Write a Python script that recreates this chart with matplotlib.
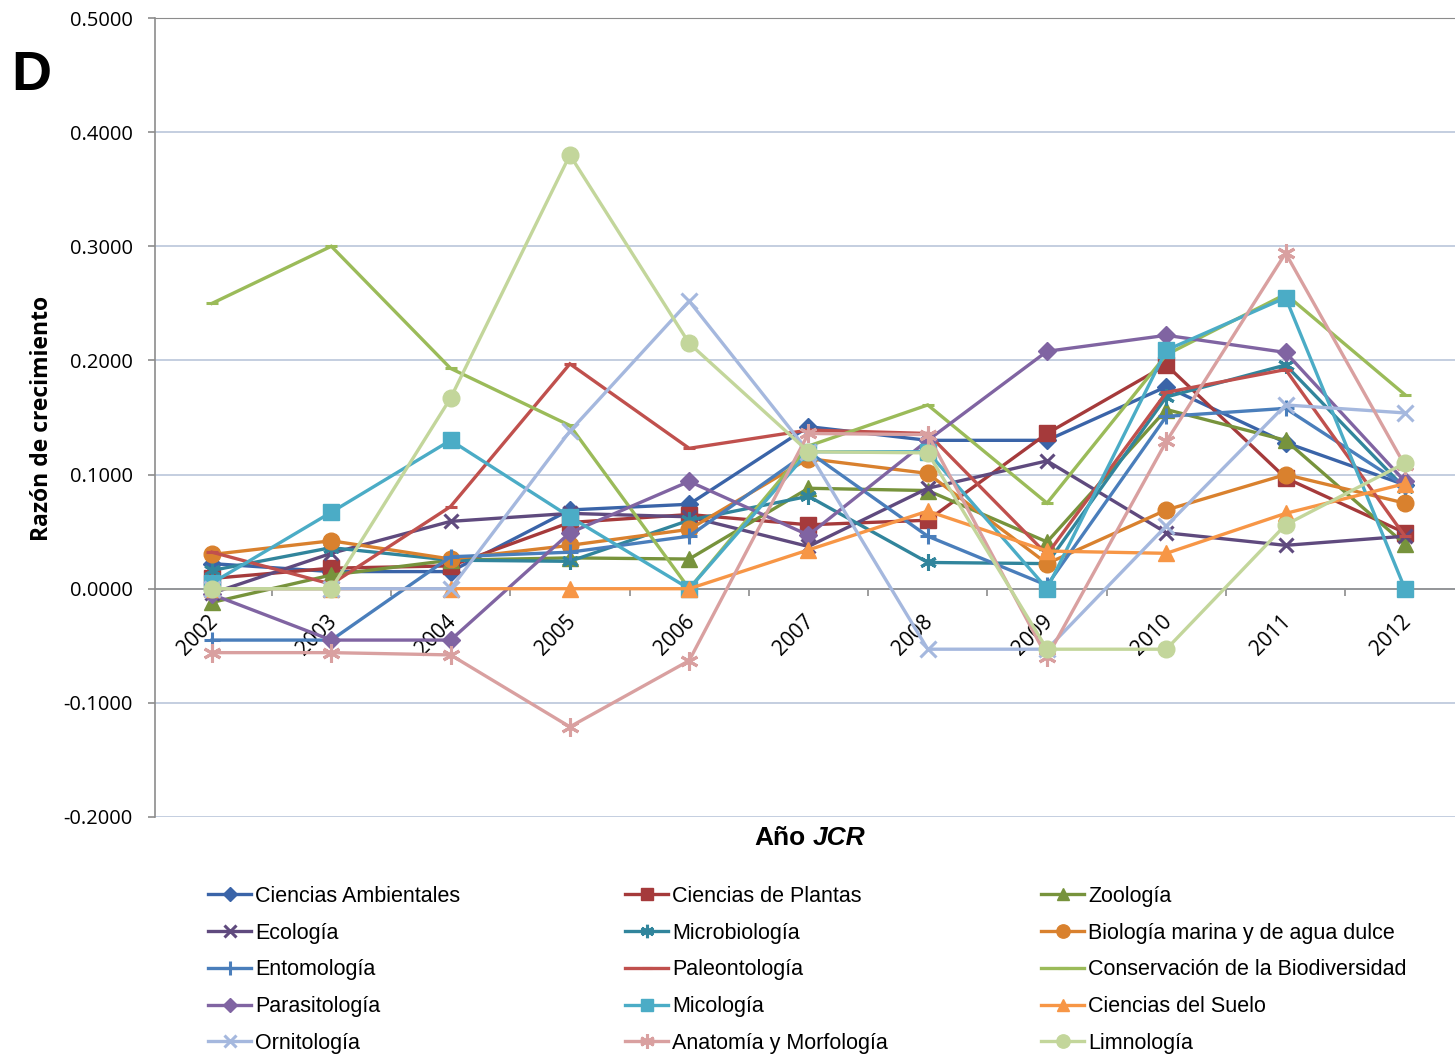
import matplotlib
matplotlib.use("Agg")
import matplotlib.pyplot as plt
from matplotlib.transforms import ScaledTranslation

# Growth ratio by JCR year for each subject category
years = ["2002", "2003", "2004", "2005", "2006", "2007", "2008", "2009", "2010", "2011", "2012"]

ciencias_ambientales = [0.022, 0.015, 0.015, 0.069, 0.074, 0.142, 0.130, 0.130, 0.177, 0.128, 0.091]
ciencias_plantas = [0.009, 0.018, 0.020, 0.058, 0.065, 0.056, 0.060, 0.136, 0.196, 0.097, 0.049]
zoologia = [-0.012, 0.012, 0.025, 0.027, 0.026, 0.088, 0.086, 0.041, 0.157, 0.130, 0.039]
ecologia = [-0.004, 0.031, 0.059, 0.066, 0.063, 0.037, 0.088, 0.112, 0.049, 0.038, 0.046]
microbiologia = [0.016, 0.036, 0.025, 0.024, 0.060, 0.081, 0.023, 0.022, 0.168, 0.196, 0.088]
biologia_marina = [0.030, 0.042, 0.026, 0.038, 0.052, 0.114, 0.101, 0.022, 0.069, 0.100, 0.075]
entomologia = [-0.045, -0.045, 0.028, 0.032, 0.046, 0.120, 0.046, 0.003, 0.151, 0.158, 0.090]
paleontologia = [0.032, 0.004, 0.072, 0.197, 0.123, 0.139, 0.136, 0.030, 0.172, 0.192, 0.046]
conservacion = [0.250, 0.300, 0.193, 0.143, 0.000, 0.125, 0.161, 0.075, 0.205, 0.258, 0.170]
parasitologia = [-0.005, -0.045, -0.045, 0.049, 0.094, 0.047, 0.130, 0.208, 0.222, 0.207, 0.094]
micologia = [0.005, 0.067, 0.130, 0.063, 0.000, 0.120, 0.120, 0.000, 0.209, 0.255, 0.000]
ciencias_suelo = [0.000, 0.000, 0.000, 0.000, 0.000, 0.034, 0.068, 0.033, 0.031, 0.066, 0.092]
ornitologia = [0.000, 0.000, 0.000, 0.138, 0.252, 0.120, -0.053, -0.053, 0.055, 0.161, 0.154]
anatomia = [-0.056, -0.056, -0.058, -0.121, -0.063, 0.136, 0.135, -0.060, 0.129, 0.294, 0.108]
limnologia = [0.000, 0.000, 0.167, 0.380, 0.215, 0.120, 0.119, -0.053, -0.053, 0.056, 0.110]

names = [
    "Ciencias Ambientales", "Ciencias de Plantas", "Zoología",
    "Ecología", "Microbiología", "Biología marina y de agua dulce",
    "Entomología", "Paleontología", "Conservación de la Biodiversidad",
    "Parasitología", "Micología", "Ciencias del Suelo",
    "Ornitología", "Anatomía y Morfología", "Limnología",
]
series = [
    ciencias_ambientales, ciencias_plantas, zoologia,
    ecologia, microbiologia, biologia_marina,
    entomologia, paleontologia, conservacion,
    parasitologia, micologia, ciencias_suelo,
    ornitologia, anatomia, limnologia,
]

STAR = (6, 2, 0)
styles = [
    ("#3A64A8", "D", 9),
    ("#A53A3B", "s", 11),
    ("#77933C", "^", 11),
    ("#5F4A7E", "x", 10),
    ("#31859C", STAR, 12),
    ("#D9812E", "o", 12),
    ("#4A7EBB", "+", 12),
    ("#C0504D", "_", 9),
    ("#9BBB59", "_", 9),
    ("#8064A2", "D", 9),
    ("#4BACC6", "s", 11),
    ("#F79646", "^", 11),
    ("#A5B8DE", "x", 11),
    ("#D9A0A0", STAR, 13),
    ("#C3D69B", "o", 12),
]

plt.rcParams["font.family"] = ["Open Sans", "DejaVu Sans"]

fig = plt.figure(figsize=(14.55, 10.56), dpi=100)
ax = fig.add_axes([155 / 1455, 1 - 817 / 1056, 1300 / 1455, 799 / 1056])

x = list(range(len(years)))
handles = []
for i, (name, vals, (col, mk, ms)) in enumerate(zip(names, series, styles)):
    mew = 2.2 if mk in ("x", "+", STAR, "_") else 1.0
    (ln,) = ax.plot(x, vals, color=col, lw=2.4, marker=mk, ms=ms,
                    markeredgewidth=mew, markerfacecolor=col, markeredgecolor=col,
                    label=name, zorder=3 + i, solid_joinstyle="miter")
    handles.append(ln)

ax.set_xlim(-0.478, 10.42)
ax.set_ylim(-0.2, 0.5)
yt = [-0.2, -0.1, 0.0, 0.1, 0.2, 0.3, 0.4, 0.5]
ax.set_yticks(yt)
ax.set_yticklabels([f"{v:.4f}" for v in yt], fontsize=14.5)
ax.grid(axis="y", color="#BAC6DA", lw=1.2, zorder=0)
ax.set_axisbelow(True)

# category axis crosses at zero
ax.spines["bottom"].set_position(("data", 0))
ax.spines["bottom"].set_color("#8C8C8C")
ax.spines["bottom"].set_linewidth(1.2)
ax.spines["left"].set_color("#8C8C8C")
ax.spines["left"].set_linewidth(1.2)
ax.spines["top"].set_color("#8C8C8C")
ax.spines["right"].set_visible(False)

ax.set_xticks(x)
ax.set_xticks([v + 0.5 for v in x[:-1]], minor=True)
ax.tick_params(axis="x", which="major", length=0, pad=8)
ax.tick_params(axis="x", which="minor", length=5, color="#8C8C8C", width=1.2)
ax.tick_params(axis="y", length=5, color="#8C8C8C", width=1.2, pad=11)
ax.set_xticklabels(years, rotation=45, ha="right", va="top",
                   rotation_mode="anchor", fontsize=15)
shift = ScaledTranslation(-5 / 100, -11 / 100, fig.dpi_scale_trans)
for lbl in ax.get_xticklabels():
    lbl.set_transform(lbl.get_transform() + shift)

fig.text(806 / 1455, 1 - 845 / 1056, "Año", fontsize=19, fontweight="bold",
         ha="right", va="baseline", family="Liberation Sans")
fig.text(813 / 1455, 1 - 845 / 1056, "JCR", fontsize=19, fontweight="bold",
         style="italic", ha="left", va="baseline", family="Liberation Sans")
fig.text(42 / 1455, 1 - 418 / 1056, "Razón de crecimiento", fontsize=16.5,
         fontweight="bold", rotation=90, ha="center", va="center")
fig.text(11 / 1455, 1 - 90 / 1056, "D", fontsize=40, fontweight="bold",
         ha="left", va="baseline", family="Liberation Sans")

# legend laid out in three columns, filled row by row
col_x = [208, 625, 1041]
for c in range(3):
    hs = handles[c::3]
    fig.legend(handles=hs, labels=[h.get_label() for h in hs],
               loc="upper left", bbox_to_anchor=(col_x[c] / 1455, 1 - 886 / 1056),
               frameon=False, ncol=1, handlelength=2.0, handletextpad=0.2,
               labelspacing=0.73, borderaxespad=0, borderpad=0,
               prop={"family": "Liberation Sans", "size": 15.5},
               markerscale=0.8)

fig.savefig("out.png", dpi=100)
